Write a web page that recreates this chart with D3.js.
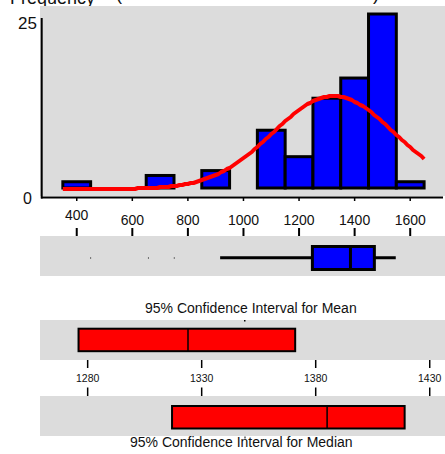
<!DOCTYPE html>
<html>
<head>
<meta charset="utf-8">
<script src="https://d3js.org/d3.v7.min.js"></script>
<style>
	body { margin: 0; background: #fff; }
	text { font-family: 'Liberation Sans', Arial, sans-serif; fill: #111; }
</style>
</head>
<body>
<div id="chart"></div>
<script>
// Histogram bins (lower edges) and frequencies
const binStarts = [350, 450, 550, 650, 750, 850, 950, 1050, 1150, 1250, 1350, 1450, 1550];
const binWidth = 100;
const counts = [0.9, 0, 0, 1.8, 0, 2.5, 0, 8.3, 4.5, 12.9, 15.8, 25, 0.9];

// Fitted normal curve
const fitMean = 1324;
const fitSd = 218;
const fitN = 73;
const fitRange = [350, 1650];

// Boxplot summary
const outliers = [450, 658, 751];
const whiskers = [916, 1548];
const quartiles = [1248, 1385, 1471];

// Confidence intervals [low, centre, high]
const ciMean = [1276, 1324, 1371];
const ciMedian = [1317, 1385, 1419];

// Tick labels
const xTicks = [400, 600, 800, 1000, 1200, 1400, 1600];
const yTicks = [0, 25];
const ciTicks = [1280, 1330, 1380, 1430];

const W = 445, H = 454;
const gray = '#dcdcdc';

const svg = d3.select('#chart').append('svg')
	.attr('width', W)
	.attr('height', H);

const x = d3.scaleLinear().domain([275, 1718]).range([42, 443]);
const y = d3.scaleLinear().domain([0, 25]).range([188, 14]);
const xc = d3.scaleLinear().domain([1259.1, 1436.7]).range([40, 445]);

// Title remnants (cut off at the top)
svg.append('text').attr('x', 10).attr('y', 4).style('font-size', '18px').text('Frequency');
svg.append('text').attr('x', 116).attr('y', -0.5).style('font-size', '18px').text('(');
svg.append('text').attr('x', 373).attr('y', -0.5).style('font-size', '18px').text(')');

// Histogram panel
svg.append('rect')
	.attr('x', 40).attr('y', 6)
	.attr('width', W - 40).attr('height', 190)
	.attr('fill', gray);

svg.append('g').selectAll('rect')
	.data(binStarts.map((b, i) => ({ x0: b, x1: b + binWidth, n: counts[i] })))
.join('rect')
	.attr('x', d => x(d.x0))
	.attr('width', d => x(d.x1) - x(d.x0))
	.attr('y', d => y(d.n))
	.attr('height', d => y(0) - y(d.n))
	.attr('fill', '#0000ff')
	.attr('stroke', '#000')
	.attr('stroke-width', 3);

// Normal curve scaled to counts
const density = v => fitN * binWidth / (fitSd * Math.sqrt(2 * Math.PI)) * Math.exp(-0.5 * Math.pow((v - fitMean) / fitSd, 2));
const curvePts = d3.range(fitRange[0], fitRange[1] + 1, 10);

svg.append('path')
	.datum(curvePts)
	.attr('fill', 'none')
	.attr('stroke', '#ff0000')
	.attr('stroke-width', 4)
	.attr('stroke-linejoin', 'round')
	.attr('d', d3.line().x(d => x(d)).y(d => Math.round(y(density(d))) + 1));

// Axes lines
svg.append('line')
	.attr('x1', 41.7).attr('x2', 41.7).attr('y1', 18).attr('y2', 198.5)
	.attr('stroke', '#000').attr('stroke-width', 2);
svg.append('line')
	.attr('x1', 41).attr('x2', 443).attr('y1', 197.5).attr('y2', 197.5)
	.attr('stroke', '#000').attr('stroke-width', 2);

// Y tick labels
svg.append('text').attr('x', 37).attr('y', 29.3).attr('text-anchor', 'end').style('font-size', '17px').text(yTicks[1]);
svg.append('text').attr('x', 32).attr('y', 204).attr('text-anchor', 'end').style('font-size', '16px').text(yTicks[0]);

// X ticks and labels
const xt = svg.append('g');
xt.selectAll('line.top')
	.data(xTicks)
.join('line')
	.attr('class', 'top')
	.attr('x1', d => x(d)).attr('x2', d => x(d))
	.attr('y1', 197).attr('y2', 201)
	.attr('stroke', '#000').attr('stroke-width', 1.5);
xt.selectAll('line.bot')
	.data(xTicks)
.join('line')
	.attr('class', 'bot')
	.attr('x1', d => x(d)).attr('x2', d => x(d))
	.attr('y1', 228).attr('y2', 236)
	.attr('stroke', '#000').attr('stroke-width', 2);
xt.selectAll('text')
	.data(xTicks)
.join('text')
	.attr('x', d => x(d))
	.attr('y', (d, i) => i == 0 ? 219.5 : 224.5)
	.attr('text-anchor', 'middle')
	.style('font-size', '14px')
	.text(d => d);

// Boxplot panel
svg.append('rect')
	.attr('x', 40).attr('y', 236)
	.attr('width', W - 40).attr('height', 40)
	.attr('fill', gray);

svg.append('line')
	.attr('x1', x(whiskers[0])).attr('x2', x(whiskers[1]))
	.attr('y1', 257.7).attr('y2', 257.7)
	.attr('stroke', '#000').attr('stroke-width', 3);

svg.append('rect')
	.attr('x', x(quartiles[0])).attr('y', 246.5)
	.attr('width', x(quartiles[2]) - x(quartiles[0])).attr('height', 23)
	.attr('fill', '#0000ff')
	.attr('stroke', '#000').attr('stroke-width', 3);

svg.append('line')
	.attr('x1', x(quartiles[1])).attr('x2', x(quartiles[1]))
	.attr('y1', 246.5).attr('y2', 269.5)
	.attr('stroke', '#000').attr('stroke-width', 3);

svg.append('g').selectAll('rect')
	.data(outliers)
.join('rect')
	.attr('x', d => x(d) - 0.5).attr('y', 257.5)
	.attr('width', 1).attr('height', 1)
	.attr('fill', '#000');

// Confidence interval panels
const ciPanel = function(top, vals, boxTop, label, labelX, labelY) {
	svg.append('rect')
		.attr('x', 40).attr('y', top)
		.attr('width', W - 40).attr('height', 40)
		.attr('fill', gray);
	svg.append('rect')
		.attr('x', xc(vals[0])).attr('y', boxTop)
		.attr('width', xc(vals[2]) - xc(vals[0])).attr('height', 22.5)
		.attr('fill', '#ff0000')
		.attr('stroke', '#000').attr('stroke-width', 2);
	svg.append('line')
		.attr('x1', xc(vals[1])).attr('x2', xc(vals[1]))
		.attr('y1', boxTop).attr('y2', boxTop + 22.5)
		.attr('stroke', '#000').attr('stroke-width', 1.5);
	svg.append('text')
		.attr('x', labelX).attr('y', labelY)
		.style('font-size', '14px')
		.text(label);
};

ciPanel(320, ciMean, 328.7, '95% Confidence Interval for Mean', 145, 312.7);
ciPanel(396, ciMedian, 406, '95% Confidence Interval for Median', 130, 446.7);

// small stray marks
svg.append('rect').attr('x', 244).attr('y', 320).attr('width', 1.5).attr('height', 1.5).attr('fill', '#000');
svg.append('rect').attr('x', 244.5).attr('y', 436.5).attr('width', 1).attr('height', 2).attr('fill', '#000');

// CI axis
const ct = svg.append('g');
ct.selectAll('line.a')
	.data(ciTicks)
.join('line')
	.attr('class', 'a')
	.attr('x1', d => xc(d)).attr('x2', d => xc(d))
	.attr('y1', 360).attr('y2', 368)
	.attr('stroke', '#000').attr('stroke-width', 1.5);
ct.selectAll('line.b')
	.data(ciTicks)
.join('line')
	.attr('class', 'b')
	.attr('x1', d => xc(d)).attr('x2', d => xc(d))
	.attr('y1', 387.5).attr('y2', 396)
	.attr('stroke', '#000').attr('stroke-width', 1.5);
ct.selectAll('text')
	.data(ciTicks)
.join('text')
	.attr('x', d => xc(d))
	.attr('y', 381.7)
	.attr('text-anchor', 'middle')
	.style('font-size', '10.5px')
	.text(d => d);
</script>
</body>
</html>
